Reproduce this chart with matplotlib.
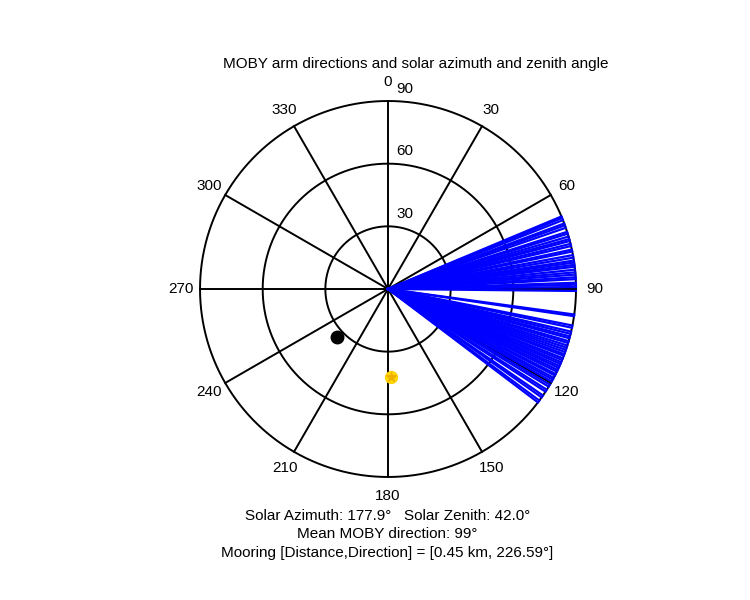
import numpy as np
import matplotlib
matplotlib.use('Agg')
import matplotlib.pyplot as plt

plt.rcParams['font.family'] = ['Liberation Sans', 'DejaVu Sans']

# ---- data ----
arm_directions = [67.3, 67.8, 68.5, 69.6, 70.2, 71.0, 72.3, 72.9, 73.8, 74.6,
                  75.2, 76.1, 76.8, 77.9, 78.5, 79.6, 80.4, 81.3, 81.9, 82.6,
                  83.2, 84.1, 84.9, 85.6, 86.4, 87.0, 88.1, 88.7, 89.4, 90.6,
                  97.8, 98.3, 101.2, 101.9, 103.1, 103.8, 104.6, 105.2, 106.1, 106.7,
                  107.5, 108.2, 108.9, 109.6, 110.3, 110.8, 111.6, 112.2, 112.9, 113.5,
                  114.2, 114.8, 115.5, 116.1, 116.9, 117.4, 118.2, 118.8, 119.5, 120.6,
                  121.3, 122.4, 123.1, 124.5, 125.2, 126.4, 127.1]
sun_azimuth = 177.9
sun_zenith = 42.0
mooring_direction = 226.59
mooring_radius = 33.3
ring_values = [30, 60, 90]
angle_ticks = [0, 30, 60, 90, 120, 150, 180, 210, 240, 270, 300, 330]

title_text = 'MOBY arm directions and solar azimuth and zenith angle'
footer_lines = ['Solar Azimuth: 177.9\u00b0   Solar Zenith: 42.0\u00b0',
                'Mean MOBY direction: 99\u00b0',
                'Mooring [Distance,Direction] = [0.45 km, 226.59\u00b0]']

FS = 11

# ---- figure ----
fig = plt.figure(figsize=(7.5, 6), dpi=100)
ax = fig.add_axes([0.2667, 0.205, 0.5013, 0.6267], projection='polar')
ax.set_theta_zero_location('N')
ax.set_theta_direction(-1)
rmax = ring_values[-1]
ax.set_ylim(0, rmax)
ax.set_xticks([])
ax.set_yticks([])
ax.grid(False)
ax.spines['polar'].set_visible(False)
ax.patch.set_visible(False)

theta_circle = np.linspace(0, 2 * np.pi, 721)
for r in ring_values:
    ax.plot(theta_circle, np.full_like(theta_circle, r), color='k', lw=1.4,
            clip_on=False, zorder=1)
    ax.annotate(str(r), xy=(0, r), xytext=(12, 9), textcoords='offset points',
                ha='center', va='center', fontsize=FS)

for a in angle_ticks:
    t = np.deg2rad(a)
    ax.plot([t, t], [0, rmax], color='k', lw=1.4, clip_on=False, zorder=1)
    ax.text(t, rmax * 1.1, str(a), ha='center', va='center', fontsize=FS)

for d in arm_directions:
    t = np.deg2rad(d)
    ax.plot([t, t], [0, rmax], color='#0000ff', lw=1.6, clip_on=False, zorder=2)

ax.plot([np.deg2rad(mooring_direction)], [mooring_radius], 'o', color='k',
        ms=9, zorder=3, clip_on=False)
ax.plot([np.deg2rad(sun_azimuth)], [sun_zenith], 'o', color='#ffe000',
        mec='#ffd000', ms=8.5, zorder=3, clip_on=False)
ax.plot([np.deg2rad(sun_azimuth)], [sun_zenith], '*', color='#f0b000',
        ms=7, mew=0.8, zorder=4, clip_on=False)

fig.text(415.5 / 750, 1 - 64 / 600, title_text, ha='center', va='center', fontsize=FS)
for i, line in enumerate(footer_lines):
    fig.text(387.5 / 750, 1 - (516 + 18.5 * i) / 600, line, ha='center',
             va='center', fontsize=FS)

fig.savefig('out.png', dpi=100)
